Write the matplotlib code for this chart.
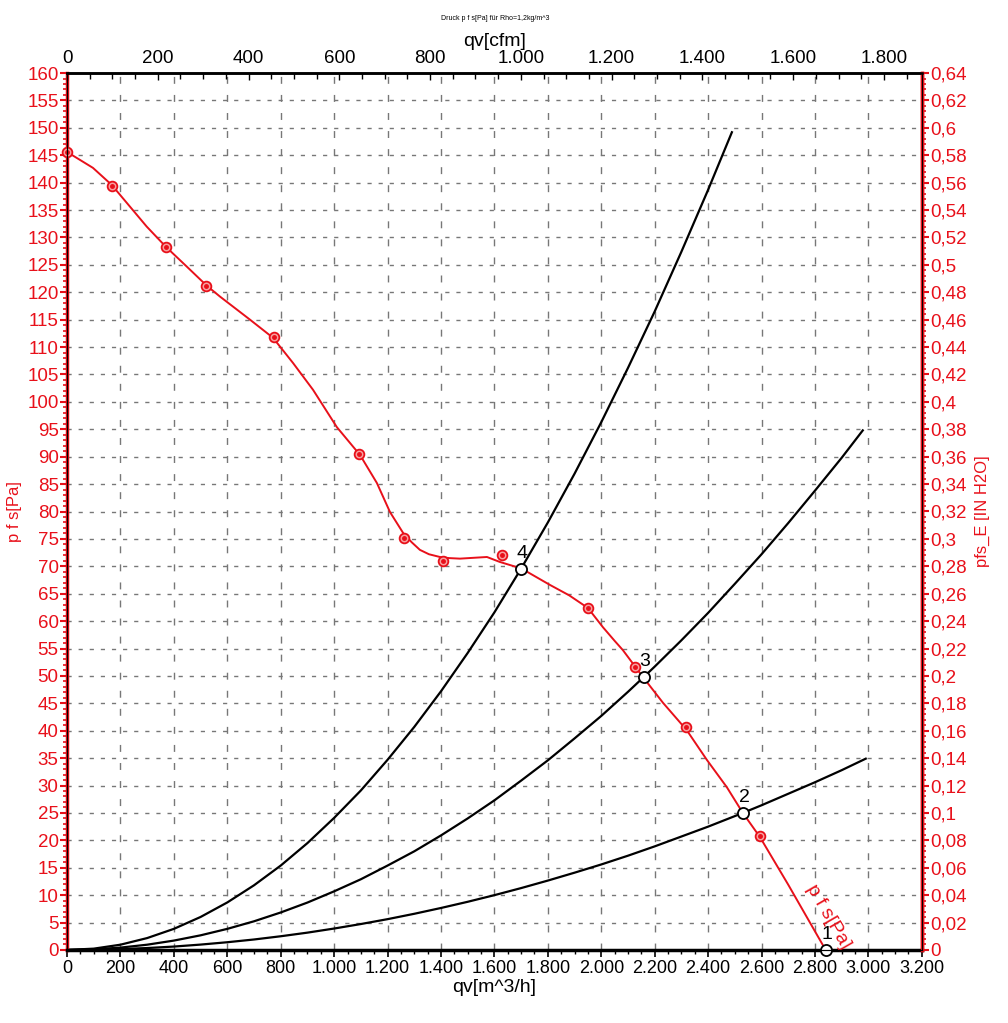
import matplotlib
matplotlib.use('Agg')
import matplotlib.pyplot as plt
from matplotlib.ticker import MultipleLocator, FuncFormatter

plt.rcParams['font.family'] = ['Liberation Sans Narrow', 'Liberation Sans', 'DejaVu Sans']

# fan curve p f s [Pa] over qv [m^3/h] (traced line)
fan_q = [0, 97, 167, 236, 298, 370, 448, 523, 573, 685, 771, 846, 921, 1010, 1097,
         1160, 1209, 1258, 1290, 1321, 1355, 1396, 1430, 1471, 1572, 1620, 1701, 1808,
         1880, 1950, 2006, 2050, 2081, 2156, 2231, 2320, 2395, 2470, 2530, 2594, 2700, 2840]
fan_p = [145.6, 142.7, 139.6, 135.6, 132.0, 128.3, 124.7, 121.2, 119.2, 115.0, 111.7,
         107.1, 102.2, 95.4, 90.3, 85.2, 79.9, 76.1, 74.4, 73.0, 72.2, 71.7, 71.5, 71.4,
         71.7, 70.8, 69.6, 66.6, 64.7, 62.4, 58.9, 56.4, 54.7, 49.8, 45.1, 40.1, 34.7,
         29.7, 25.0, 20.6, 11.9, 0]

# measured points
meas_q = [0, 167, 370, 520, 775, 1093, 1261, 1407, 1628, 1950, 2126, 2317, 2594]
meas_p = [145.6, 139.4, 128.3, 121.2, 111.9, 90.5, 75.2, 71.0, 72.1, 62.4, 51.6, 40.7, 20.8]

# system curves
sys4_q = [0, 100, 200, 300, 400, 500, 600, 700, 800, 900, 1000, 1100, 1200, 1300, 1400,
          1500, 1600, 1699, 1800, 1900, 2000, 2100, 2200, 2300, 2400, 2489]
sys4_p = [0, 0.24, 0.96, 2.17, 3.85, 6.02, 8.67, 11.8, 15.4, 19.5, 24.1, 29.1, 34.7, 40.7,
          47.2, 54.2, 61.6, 69.5, 78.0, 86.9, 96.3, 106.2, 116.5, 127.4, 138.7, 149.2]
sys3_q = [0, 100, 200, 300, 400, 500, 600, 700, 800, 900, 1000, 1100, 1200, 1300, 1400,
          1500, 1600, 1700, 1800, 1900, 2000, 2100, 2159, 2200, 2300, 2400, 2500, 2600,
          2700, 2800, 2900, 2979]
sys3_p = [0, 0.11, 0.43, 0.96, 1.71, 2.67, 3.85, 5.23, 6.84, 8.65, 10.7, 12.9, 15.4, 18.0,
          20.9, 24.0, 27.3, 30.9, 34.6, 38.6, 42.7, 47.1, 49.8, 51.7, 56.5, 61.5, 66.8,
          72.2, 77.9, 83.8, 89.8, 94.8]
sys2_q = [0, 100, 200, 300, 400, 500, 600, 700, 800, 900, 1000, 1100, 1200, 1300, 1400,
          1500, 1600, 1700, 1800, 1900, 2000, 2100, 2200, 2300, 2400, 2530, 2600, 2700,
          2800, 2900, 2990]
sys2_p = [0, 0.04, 0.16, 0.35, 0.62, 0.98, 1.41, 1.91, 2.5, 3.16, 3.91, 4.73, 5.62, 6.6,
          7.66, 8.79, 10.0, 11.29, 12.66, 14.1, 15.6, 17.2, 18.9, 20.7, 22.5, 25.0, 26.4,
          28.5, 30.6, 32.8, 34.9]

# operating points
op_q = [2840, 2530, 2159, 1699]
op_p = [0, 25.0, 49.8, 69.5]
op_lbl = ['1', '2', '3', '4']

red = '#e8101a'
fig = plt.figure(figsize=(10.08, 10.23), dpi=100)
ax = fig.add_axes([0.0665, 0.0714, 0.848, 0.8572])

ax.set_xlim(0, 3200)
ax.set_ylim(0, 160)

# grid
for gx in range(200, 3200, 200):
    ax.axvline(gx, color='#777777', lw=1.0, dashes=(5, 8), zorder=0)
for gy in range(5, 160, 5):
    ax.axhline(gy, color='#777777', lw=1.0, dashes=(3, 5), zorder=0)

ax.plot(sys4_q, sys4_p, color='black', lw=1.6, zorder=2)
ax.plot(sys3_q, sys3_p, color='black', lw=1.6, zorder=2)
ax.plot(sys2_q, sys2_p, color='black', lw=1.6, zorder=2)

ax.plot(fan_q, fan_p, color=red, lw=1.4, zorder=3)
ax.plot(meas_q, meas_p, ls='none', marker='o', ms=7, mfc='#f7a0a0', mec=red, mew=1.3, zorder=4, clip_on=False)
ax.plot(meas_q, meas_p, ls='none', marker='o', ms=2.5, mfc=red, mec=red, zorder=5, clip_on=False)

ax.plot(op_q, op_p, ls='none', marker='o', ms=8, mfc='white', mec='black', mew=1.3, zorder=6, clip_on=False)
for q, p, t in zip(op_q, op_p, op_lbl):
    ax.text(q + 5, p + 1.2, t, fontsize=14, color='black', ha='center', va='bottom', zorder=7)

ax.text(2850, 6.0, 'p f s[Pa]', color=red, fontsize=14, rotation=-60,
        rotation_mode='anchor', ha='center', va='center', clip_on=False, zorder=7)

# bottom / left axis
ax.xaxis.set_major_locator(MultipleLocator(200))
ax.xaxis.set_minor_locator(MultipleLocator(50))
ax.yaxis.set_major_locator(MultipleLocator(5))
ax.yaxis.set_minor_locator(MultipleLocator(1))
ax.xaxis.set_major_formatter(FuncFormatter(lambda v, p: f'{v:,.0f}'.replace(',', '.')))
ax.tick_params(axis='x', which='major', length=5, width=1.2, colors='black', labelsize=13, pad=2)
ax.tick_params(axis='x', which='minor', length=3, width=1.0, colors='black')
ax.tick_params(axis='y', which='major', length=5, width=1.5, colors=red, labelsize=13.5, pad=1)
ax.tick_params(axis='y', which='minor', length=3, width=1.2, colors=red)
ax.spines['left'].set_color(red)
ax.spines['left'].set_linewidth(2.5)
ax.spines['bottom'].set_linewidth(2.5)
ax.spines['top'].set_linewidth(1.8)
ax.spines['right'].set_color(red)
ax.spines['right'].set_linewidth(2.5)
ax.set_xlabel('qv[m^3/h]', fontsize=14, labelpad=2)
ax.set_ylabel('p f s[Pa]', fontsize=12, color=red, labelpad=4)

# right axis, inch water
axr = ax.twinx()
axr.set_ylim(0, 0.64)
axr.yaxis.set_major_locator(MultipleLocator(0.02))
axr.yaxis.set_minor_locator(MultipleLocator(0.004))
axr.yaxis.set_major_formatter(FuncFormatter(lambda v, p: f'{round(v, 2):g}'.replace('.', ',')))
axr.tick_params(axis='y', which='major', length=5, width=1.5, colors=red, labelsize=13.5, pad=1)
axr.tick_params(axis='y', which='minor', length=3, width=1.2, colors=red)
axr.spines['right'].set_color(red)
axr.spines['right'].set_linewidth(2.5)
axr.set_ylabel('pfs_E [IN H2O]', fontsize=12, color=red, labelpad=6)

# top axis, cfm
axt = ax.twiny()
axt.set_xlim(0, 3200 * 0.5886)
axt.xaxis.set_major_locator(MultipleLocator(200))
axt.xaxis.set_minor_locator(MultipleLocator(50))
axt.xaxis.set_major_formatter(FuncFormatter(lambda v, p: f'{v:,.0f}'.replace(',', '.')))
axt.tick_params(axis='x', which='major', direction='in', length=5, width=1.0, labelsize=13.5, pad=4)
axt.tick_params(axis='x', which='minor', direction='in', length=4, width=1.0)
axt.spines['top'].set_linewidth(1.8)
axt.set_xlabel('qv[cfm]', fontsize=14, labelpad=3)

fig.text(0.491, 0.982, 'Druck p f s[Pa] für Rho=1,2kg/m^3', fontsize=5, ha='center', va='center')

fig.savefig('out.png', dpi=100)
